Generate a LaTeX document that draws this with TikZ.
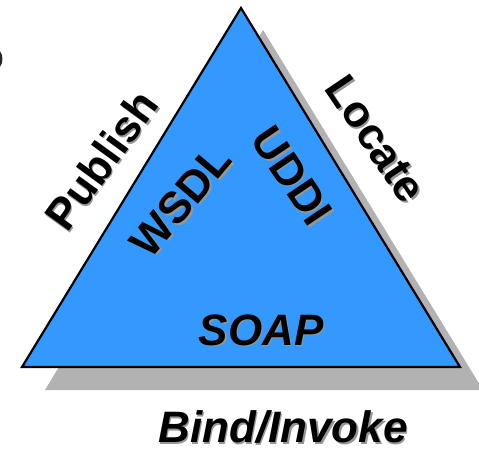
\documentclass[tikz,border=0pt]{standalone}
\usepackage{fontspec}
\setmainfont{Liberation Sans}
\definecolor{triblue}{RGB}{51,153,255}
\definecolor{shadowgray}{RGB}{178,178,178}
\definecolor{txtshadow}{RGB}{150,150,150}
\tikzset{
  lbl/.style={inner sep=0pt, font=\fontsize{44}{48}\selectfont\bfseries},
  lbli/.style={inner sep=0pt, font=\fontsize{44}{48}\selectfont\bfseries\itshape},
  shd/.style={text=txtshadow},
}
\newcommand{\shlabel}[5]{%
  % #1 name, #2 x, #3 y, #4 options, #5 text
  \node[#4, shd] (#1S) at (#2+1.6,#3+1.6) {#5};
  \node[#4] (#1) at (#2,#3) {#5};
}
\begin{document}
\begin{tikzpicture}[x=1pt,y=-1pt]
\useasboundingbox (0,0) rectangle (479,448);
\begin{scope}
\clip (0,0) rectangle (479,448);
% left-edge fragment
\draw[line width=2.4pt, black!85] (-1.5,51) .. controls (2.2,56) and (2.2,62) .. (-1.5,67);
% shadow triangle
\coordinate (sa) at (263,30);
\coordinate (sl) at (45,390);
\coordinate (sr) at (483,390);
\fill[shadowgray] (sa) -- (sl) -- (sr) -- cycle;
% main triangle
\coordinate (ta) at (241,8);
\coordinate (tl) at (22,367);
\coordinate (tr) at (460,367);
\filldraw[fill=triblue, draw=black, line width=2.2pt, line join=miter] (ta) -- (tl) -- (tr) -- cycle;
\end{scope}
% labels
\shlabel{publish}{101}{160}{lbl, rotate=54}{Publish}
\shlabel{locate}{376}{139}{lbl, rotate=-56}{Locate}
\shlabel{wsdl}{181}{201}{lbl, rotate=50}{WSDL}
\shlabel{uddi}{292}{176}{lbl, rotate=-56}{UDDI}
\shlabel{soap}{261}{330}{lbli}{SOAP}
\shlabel{bind}{283}{427}{lbli}{Bind/Invoke}
\end{tikzpicture}
\end{document}
